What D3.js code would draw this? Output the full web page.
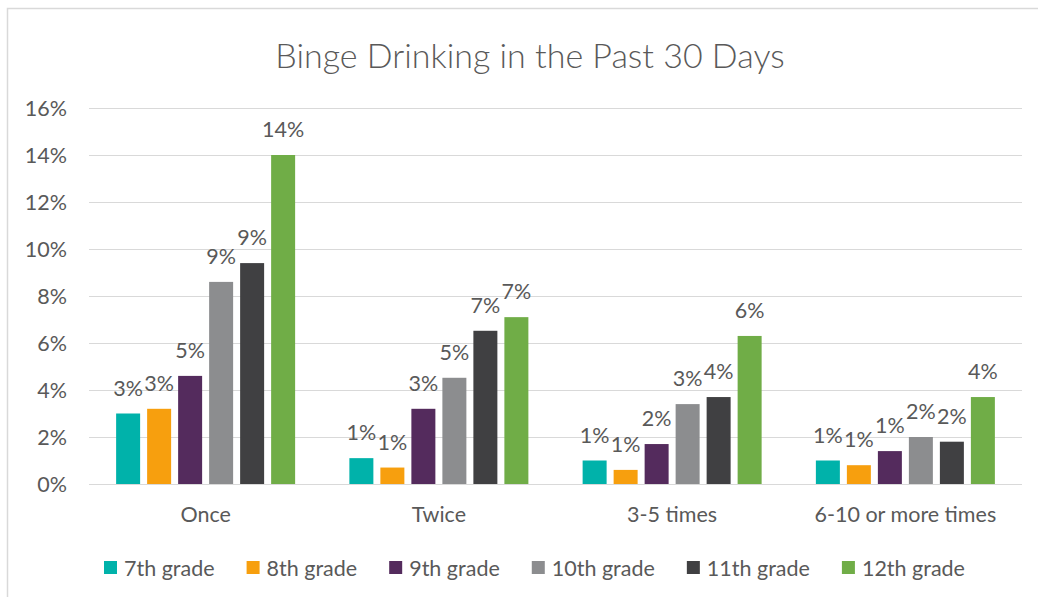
<!DOCTYPE html>
<html>
<head>
<meta charset="utf-8">
<script src="https://cdn.jsdelivr.net/npm/d3@7"></script>
<style>
  body { margin: 0; background: #fff; }
  text { font-family: Lato, "Open Sans", sans-serif; fill: #595959; }
</style>
</head>
<body>
<script>
const w = 1038
const h = 597

const categories = ['Once', 'Twice', '3-5 times', '6-10 or more times']
const grades = ['7th grade', '8th grade', '9th grade', '10th grade', '11th grade', '12th grade']
const colors = ['#00b2aa', '#f79f0e', '#542b5d', '#8c8d8f', '#404042', '#70ad47']

// percent values, one array per grade (Once, Twice, 3-5, 6-10+)
const grade7 = [3.0, 1.1, 1.0, 1.0]
const grade8 = [3.2, 0.7, 0.6, 0.8]
const grade9 = [4.6, 3.2, 1.7, 1.4]
const grade10 = [8.6, 4.52, 3.4, 2.0]
const grade11 = [9.4, 6.52, 3.7, 1.8]
const grade12 = [14.0, 7.1, 6.3, 3.7]
const yTicks = [0, 2, 4, 6, 8, 10, 12, 14, 16]

const series = [grade7, grade8, grade9, grade10, grade11, grade12]

const fontSize = '21.5px'

const svg = d3.select('body').append('svg')
    .attr('width', w)
    .attr('height', h)

// chart frame
svg.append('rect')
    .attr('x', 7.5).attr('y', 8.5)
    .attr('width', 1060).attr('height', 620)
    .attr('fill', 'none')
    .attr('stroke', '#d9d9d9')
    .attr('stroke-width', 1.5)

svg.append('text')
    .attr('x', 530).attr('y', 68)
    .attr('text-anchor', 'middle')
    .style('font-size', '34px')
    .style('font-weight', 300)
    .text('Binge Drinking in the Past 30 Days')

const x0 = d3.scaleBand()
    .domain(categories)
    .range([89, 1022])

const x1 = d3.scaleBand()
    .domain(grades)
    .range([0, x0.bandwidth()])
    .paddingInner(0.226)
    .paddingOuter(0.875)

const yScale = d3.scaleLinear()
    .domain([0, 16])
    .range([484, 108])

const yAxisGen = d3.axisLeft(yScale)
    .tickValues(yTicks)
    .tickSize(-(1022 - 89))
    .tickPadding(22)
    .tickFormat(d => d + '%')

const yAxis = svg.append('g')
    .attr('transform', 'translate(89,0)')
    .call(yAxisGen)
yAxis.select('.domain').remove()
yAxis.selectAll('line').attr('stroke', '#d9d9d9')
yAxis.selectAll('text')
    .style('font-size', fontSize)
    .attr('dy', '0.35em')
    .attr('fill', '#595959')

const xAxisGen = d3.axisBottom(x0).tickSize(0).tickPadding(23)
const xAxis = svg.append('g')
    .attr('transform', 'translate(0,484)')
    .call(xAxisGen)
xAxis.select('.domain').remove()
xAxis.selectAll('text')
    .style('font-size', fontSize)
    .attr('fill', '#595959')

grades.forEach(function (g, gi) {
    const vals = series[gi]
    const bars = svg.append('g')
    bars.selectAll('rect')
        .data(vals)
        .enter().append('rect')
        .attr('x', (d, i) => x0(categories[i]) + x1(g))
        .attr('y', d => yScale(d))
        .attr('width', x1.bandwidth())
        .attr('height', d => yScale(0) - yScale(d))
        .attr('fill', colors[gi])
    bars.selectAll('text')
        .data(vals)
        .enter().append('text')
        .attr('x', (d, i) => x0(categories[i]) + x1(g) + x1.bandwidth() / 2)
        .attr('y', d => yScale(d) - 18)
        .attr('text-anchor', 'middle')
        .style('font-size', fontSize)
        .text(d => Math.round(d) + '%')
})

// legend
const legend = svg.append('g')
let lx = 104
grades.forEach(function (g, gi) {
    const item = legend.append('g').attr('transform', `translate(${lx},0)`)
    item.append('rect')
        .attr('x', 0).attr('y', 561)
        .attr('width', 13).attr('height', 13)
        .attr('fill', colors[gi])
    const t = item.append('text')
        .attr('x', 20).attr('y', 576)
        .style('font-size', fontSize)
        .text(g)
    lx += 20 + t.node().getComputedTextLength() + 32
})
</script>
</body>
</html>
